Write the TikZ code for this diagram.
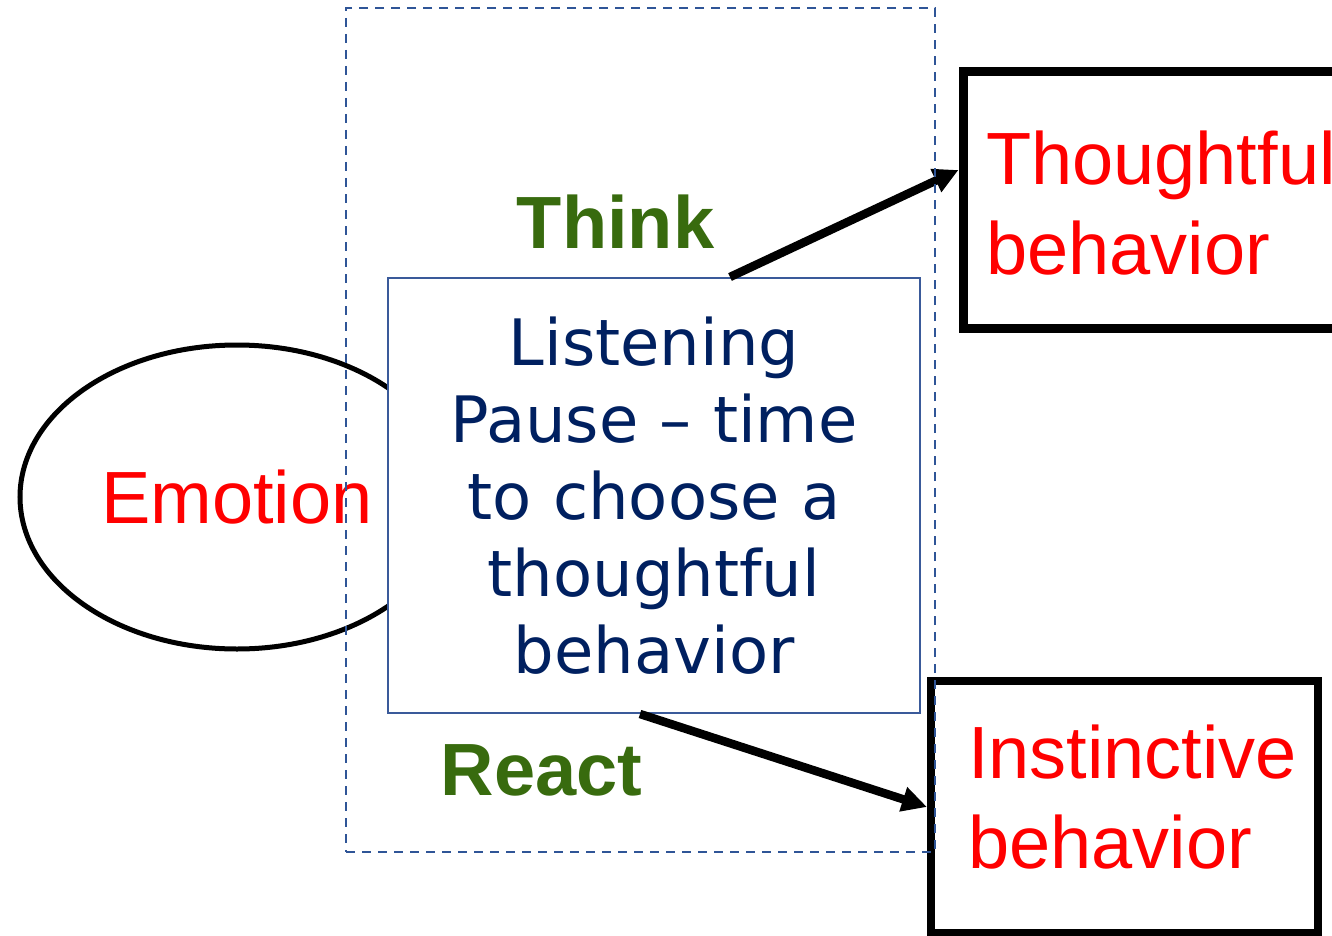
\documentclass[tikz,border=0pt]{standalone}
\usepackage{fontspec}
\setmainfont{Liberation Sans}
\newfontfamily\verd{DejaVu Sans}
\usetikzlibrary{arrows.meta,backgrounds,shapes.geometric}
\definecolor{frameblue}{HTML}{2F5597}
\definecolor{boxblue}{HTML}{3A5A9A}
\definecolor{navy}{HTML}{002060}
\definecolor{leafgreen}{HTML}{386B0E}
\definecolor{redtext}{HTML}{FF0000}
\tikzset{
  emotionshape/.style={ellipse,draw=black,line width=5pt,minimum width=434pt,minimum height=304pt,inner sep=0pt,
    text=redtext,font=\fontsize{74}{88}\selectfont},
  listenbox/.style={rectangle,draw=boxblue,line width=2pt,fill=white,minimum width=532pt,minimum height=435pt,
    text width=500pt,align=center,text=navy,font=\verd\fontsize{64}{77}\selectfont},
  outcome/.style={rectangle,draw=black,fill=white,inner xsep=0pt,align=left,text=redtext,
    font=\fontsize{74}{90}\selectfont},
  verb/.style={anchor=base,text=leafgreen,font=\bfseries\fontsize{74}{88}\selectfont,inner sep=0pt},
  zone/.style={rectangle,draw=frameblue,line width=2pt,dash pattern=on 9pt off 7pt,minimum width=589pt,minimum height=844pt,inner sep=0pt},
  bigarrow/.style={draw=black,line width=8.5pt,-{Triangle[length=25pt,width=24pt]}},
}
\begin{document}
\begin{tikzpicture}[x=1pt,y=-1pt]
\useasboundingbox (0,0) rectangle (1332,936);
\clip (0,0) rectangle (1332,936);
\fill[white] (0,0) rectangle (1332,936);
\node[emotionshape] (emo) at (237,497) {Emotion};
\node[listenbox] (listen) at (654,495.5) {Listening\\Pause – time\\to choose a\\thoughtful\\behavior};
\begin{scope}[on background layer]
  \draw[bigarrow] (emo) -- ([yshift=-130pt]listen.west);
\end{scope}
\node[outcome,line width=9pt,minimum width=382pt,minimum height=256pt,text width=336pt,text height=60pt] (thought) at (1154,200) {Thoughtful\\behavior};
\node[outcome,line width=8pt,minimum width=387pt,minimum height=252pt,text width=313pt,text depth=110pt] (instinct) at (1124.5,807) {Instinctive\\behavior};
\node[verb] (think) at (615.5,248) {Think};
\node[verb] (react) at (541.5,795) {React};
\draw[bigarrow] ([xshift=76pt]listen.north) -- ([yshift=30pt]thought.west);
\draw[bigarrow] ([xshift=-14pt]listen.south) -- (instinct.west);
\node[zone] (frame) at (640.5,430) {};
\end{tikzpicture}
\end{document}
